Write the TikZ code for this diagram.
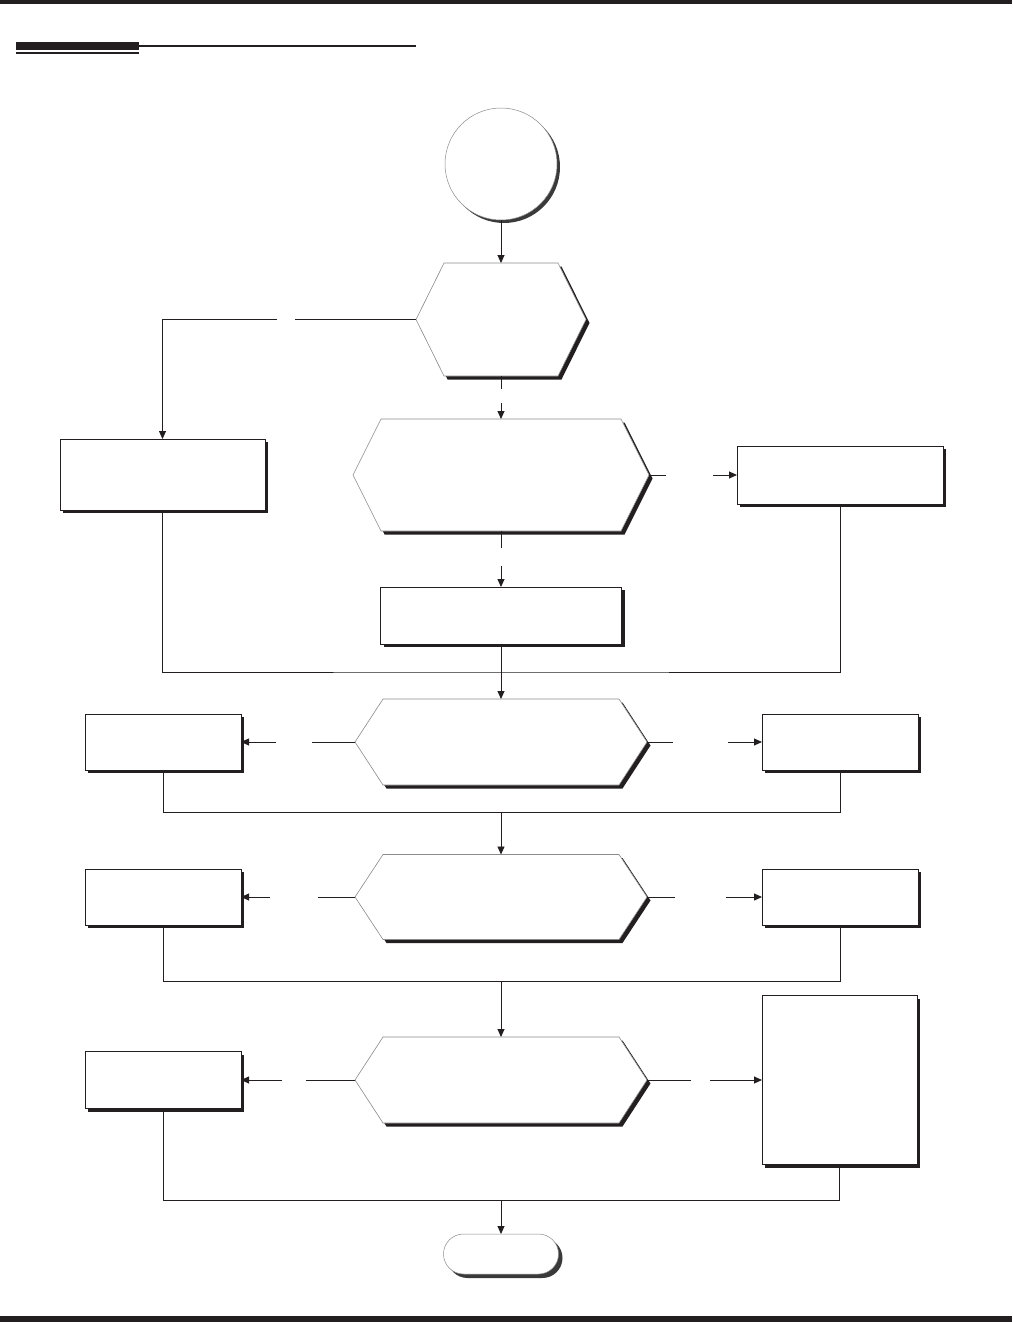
\documentclass[tikz,border=0pt]{standalone}
\usetikzlibrary{arrows.meta,shadows,shapes.misc}
\definecolor{ink}{HTML}{231F20}
\definecolor{hexline}{HTML}{8A8A8A}
\definecolor{roundshade}{HTML}{3A3A3A}
\newcommand\hexa[6]{%
  \begin{scope}[shift={(#2,#3)}]
    \fill[hexshade] (-#4+3.5,3.5) -- (-#4+#6+3.5,-#5+3.5) -- (#4-#6+3.5,-#5+3.5) -- (#4+3.5,3.5) -- (#4-#6+3.5,#5+3.5) -- (-#4+#6+3.5,#5+3.5) -- cycle;
    \filldraw[hexface] (-#4,0) -- (-#4+#6,-#5) -- (#4-#6,-#5) -- (#4,0) -- (#4-#6,#5) -- (-#4+#6,#5) -- cycle;
  \end{scope}
  \node[hexspot, minimum width={2*#4pt}, minimum height={2*#5pt}] (#1) at (#2,#3) {};
}
\begin{document}
\begin{tikzpicture}[x=1pt,y=-1pt,
  line/.style={draw=ink, line width=0.9pt},
  arrow/.style={line, -{Triangle[length=8pt,width=7pt]}},
  procbox/.style={rectangle, draw=ink, line width=0.8pt, fill=white, inner sep=0pt, outer sep=0pt,
    general shadow={fill=ink, shadow xshift=3pt, shadow yshift=-3pt}},
  hexspot/.style={rectangle, draw=none, inner sep=0pt, outer sep=0pt},
  hexface/.style={fill=white, draw=hexline, line width=0.6pt},
  hexshade/.style={fill=ink},
  startcircle/.style={circle, draw=hexline, line width=0.5pt, fill=white, inner sep=0pt, outer sep=0pt,
    minimum size=112pt, general shadow={fill=roundshade, shadow xshift=3pt, shadow yshift=-3pt}},
  endpill/.style={rounded rectangle, draw=hexline, line width=0.5pt, fill=white, inner sep=0pt, outer sep=0pt,
    minimum width=115pt, minimum height=40pt, general shadow={fill=roundshade, shadow xshift=4pt, shadow yshift=-4pt}},
  bar/.style={fill=ink, draw=none}]
\useasboundingbox (0,0) rectangle (1012,1322);

% page furniture
\fill[bar] (0,0) rectangle (1012,4);
\fill[bar] (0,1316) rectangle (1012,1322);
\fill[bar] (16,42) rectangle (139,50);
\fill[bar] (16,52) rectangle (139,54);
\fill[bar] (139,45) rectangle (416,47);

% start
\node[startcircle] (c0) at (501,164) {};

% decisions
\hexa{h1}{501}{319.5}{85}{56.5}{28}
\hexa{h2}{501}{475}{148}{56}{28}
\hexa{h3}{501}{742}{146}{43}{28}
\hexa{h4}{501}{897}{146}{42.5}{28}
\hexa{h5}{501}{1080}{146}{43}{28}

% process boxes
\node[procbox, minimum width=205pt, minimum height=71pt] (b1) at (162.5,474.5) {};
\node[procbox, minimum width=206pt, minimum height=58pt] (b2) at (840,475) {};
\node[procbox, minimum width=241pt, minimum height=57pt] (b3) at (501,615.5) {};
\node[procbox, minimum width=156pt, minimum height=56pt] (l3) at (163,742) {};
\node[procbox, minimum width=156pt, minimum height=56pt] (r3) at (840,742) {};
\node[procbox, minimum width=156pt, minimum height=56pt] (l4) at (163,897) {};
\node[procbox, minimum width=156pt, minimum height=56pt] (r4) at (840,897) {};
\node[procbox, minimum width=156pt, minimum height=57pt] (l5) at (163,1080) {};
\node[procbox, minimum width=155pt, minimum height=169pt] (r5) at (839.5,1080) {};

% end
\node[endpill] (t0) at (501,1254) {};

% gap coordinates
\coordinate (a1) at (295,319.5);  \coordinate (a2) at (277,319.5);
\coordinate (d1) at (501,389);    \coordinate (d2) at (501,403);
\coordinate (e1) at (666,475);    \coordinate (e2) at (713,475);
\coordinate (f1) at (501,548);    \coordinate (f2) at (501,566);
\coordinate (j1) at (501,672);
\coordinate (p1) at (312,742);    \coordinate (p2) at (276,742);
\coordinate (q1) at (673,742);    \coordinate (q2) at (728,742);
\coordinate (j2) at (501,812);
\coordinate (s1) at (318,897);    \coordinate (s2) at (270,897);
\coordinate (u1) at (675,897);    \coordinate (u2) at (726,897);
\coordinate (j3) at (501,981);
\coordinate (v1) at (306,1080);   \coordinate (v2) at (282,1080);
\coordinate (w1) at (691,1080);   \coordinate (w2) at (710,1080);
\coordinate (j4) at (501,1200);

% connectors
\draw[arrow] (c0.south) -- (h1.north);
\draw[line] (h1.west) -- (a1);
\draw[arrow] (a2) -| (b1.north);
\draw[line] (h1.south) -- (d1);
\draw[arrow] (d2) -- (h2.north);
\draw[line] (h2.east) -- (e1);
\draw[arrow] (e2) -- (b2.west);
\draw[line] (h2.south) -- (f1);
\draw[arrow] (f2) -- (b3.north);
\draw[line] (b1.south) |- (j1) -| (b2.south);
\draw[arrow] (b3.south) -- (h3.north);

\draw[line] (h3.west) -- (p1);
\draw[arrow] (p2) -- (l3.east);
\draw[line] (h3.east) -- (q1);
\draw[arrow] (q2) -- (r3.west);
\draw[line] (l3.south) |- (j2) -| (r3.south);
\draw[arrow] (j2) -- (h4.north);

\draw[line] (h4.west) -- (s1);
\draw[arrow] (s2) -- (l4.east);
\draw[line] (h4.east) -- (u1);
\draw[arrow] (u2) -- (r4.west);
\draw[line] (l4.south) |- (j3) -| (r4.south);
\draw[arrow] (j3) -- (h5.north);

\draw[line] (h5.west) -- (v1);
\draw[arrow] (v2) -- (l5.east);
\draw[line] (h5.east) -- (w1);
\draw[arrow] (w2) -- (r5.west);
\draw[line] (l5.south) |- (j4) -| (r5.south);
\draw[arrow] (j4) -- (t0.north);
\end{tikzpicture}
\end{document}
